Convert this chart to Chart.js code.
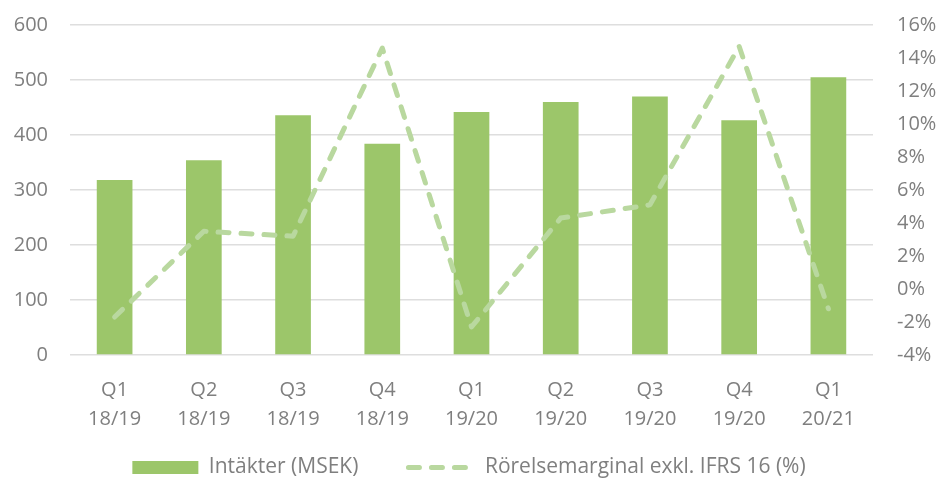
<!DOCTYPE html>
<html>
<head>
<meta charset="utf-8">
<script src="https://cdn.jsdelivr.net/npm/chart.js@4"></script>
<style>
  html, body { margin: 0; padding: 0; background: #fff; }
  #wrap { width: 938px; height: 479px; }
</style>
</head>
<body>
<div id="wrap"><canvas id="chart"></canvas></div>
<script>
// Chart data
const quarters = [
    ['Q1', '18/19'], ['Q2', '18/19'], ['Q3', '18/19'], ['Q4', '18/19'],
    ['Q1', '19/20'], ['Q2', '19/20'], ['Q3', '19/20'], ['Q4', '19/20'],
    ['Q1', '20/21']
];
const revenue = [318, 354, 436, 384, 442, 460, 470, 427, 505];
const margin = [-1.7, 3.5, 3.2, 14.6, -2.3, 4.3, 5.1, 14.7, -1.2];
const revenueTicks = [0, 100, 200, 300, 400, 500, 600];
const marginTicks = [-4, -2, 0, 2, 4, 6, 8, 10, 12, 14, 16];

const textColor = '#7f7f7f';
const barColor = '#9cc66a';
const lineColor = '#b9d89f';
const lineDash = [11, 12];
const fontFamily = '"Open Sans", "Noto Sans", sans-serif';

Chart.defaults.font.family = fontFamily;
Chart.defaults.color = textColor;

// legend: keep band short for the layout, then stretch it upwards under the axis labels
const legendPlacement = {
    id: 'legendPlacement',
    afterInit(chart) {
        const lg = chart.legend;
        if (!lg) return;
        const origFit = lg.fit.bind(lg);
        lg.fit = function () {
            origFit();
            this.height = 49;
        };
    },
    afterLayout(chart) {
        const lg = chart.legend;
        if (!lg) return;
        lg.top -= 23;
        lg.height = lg.bottom - lg.top;
    }
};

// no extra space above/below the value axes, the layout padding handles it
const trimAxisPadding = (scale, width) => {
    scale.width = width;
    scale.paddingTop = 0;
    scale.paddingBottom = 0;
};

const ctx = document.getElementById('chart').getContext('2d');
new Chart(ctx, {
    type: 'bar',
    data: {
        labels: quarters,
        datasets: [
            {
                type: 'line',
                label: 'Rörelsemarginal exkl. IFRS 16 (%)',
                data: margin,
                yAxisID: 'y1',
                borderColor: lineColor,
                backgroundColor: lineColor,
                borderWidth: 5,
                borderDash: lineDash,
                borderCapStyle: 'round',
                borderJoinStyle: 'round',
                pointRadius: 0,
                tension: 0,
                pointStyle: 'line',
                order: 0
            },
            {
                label: 'Intäkter (MSEK)',
                data: revenue,
                yAxisID: 'y',
                backgroundColor: barColor,
                borderWidth: 0,
                categoryPercentage: 1,
                barPercentage: 0.4,
                pointStyle: 'rect',
                order: 1
            }
        ]
    },
    plugins: [legendPlacement],
    options: {
        responsive: true,
        maintainAspectRatio: false,
        animation: false,
        layout: { padding: { top: 25, bottom: 0, left: 0, right: 0 } },
        plugins: {
            tooltip: { enabled: false },
            legend: {
                position: 'bottom',
                reverse: true,
                labels: {
                    usePointStyle: true,
                    pointStyleWidth: 66,
                    boxHeight: 13,
                    padding: 50,
                    color: textColor,
                    font: { size: 21 },
                    generateLabels: (chart) => {
                        const items = Chart.defaults.plugins.legend.labels.generateLabels(chart);
                        items.forEach(item => {
                            const ds = chart.data.datasets[item.datasetIndex];
                            if (ds.type === 'line') {
                                item.lineDash = ds.borderDash;
                                item.lineCap = 'round';
                                item.lineWidth = ds.borderWidth;
                                item.strokeStyle = ds.borderColor;
                            } else {
                                item.lineWidth = 0;
                                item.strokeStyle = ds.backgroundColor;
                            }
                        });
                        return items;
                    }
                }
            }
        },
        scales: {
            x: {
                grid: { display: false },
                border: { display: false },
                ticks: {
                    color: textColor,
                    font: { size: 20, lineHeight: 1.45 },
                    padding: 13,
                    maxRotation: 0
                },
                afterFit: (scale) => { scale.height = 75; }
            },
            y: {
                position: 'left',
                min: 0,
                max: 600,
                afterBuildTicks: (scale) => { scale.ticks = revenueTicks.map(v => ({ value: v })); },
                grid: { color: '#dedede', lineWidth: 1.5, drawTicks: false },
                border: { display: false },
                ticks: {
                    color: textColor,
                    font: { size: 20 },
                    padding: 22
                },
                afterFit: (scale) => trimAxisPadding(scale, 70)
            },
            y1: {
                position: 'right',
                min: -4,
                max: 16,
                afterBuildTicks: (scale) => { scale.ticks = marginTicks.map(v => ({ value: v })); },
                grid: { drawOnChartArea: false, drawTicks: false },
                border: { display: false },
                ticks: {
                    color: textColor,
                    font: { size: 20 },
                    padding: 24,
                    callback: (v) => v + '%'
                },
                afterFit: (scale) => trimAxisPadding(scale, 65)
            }
        }
    }
});
</script>
</body>
</html>
